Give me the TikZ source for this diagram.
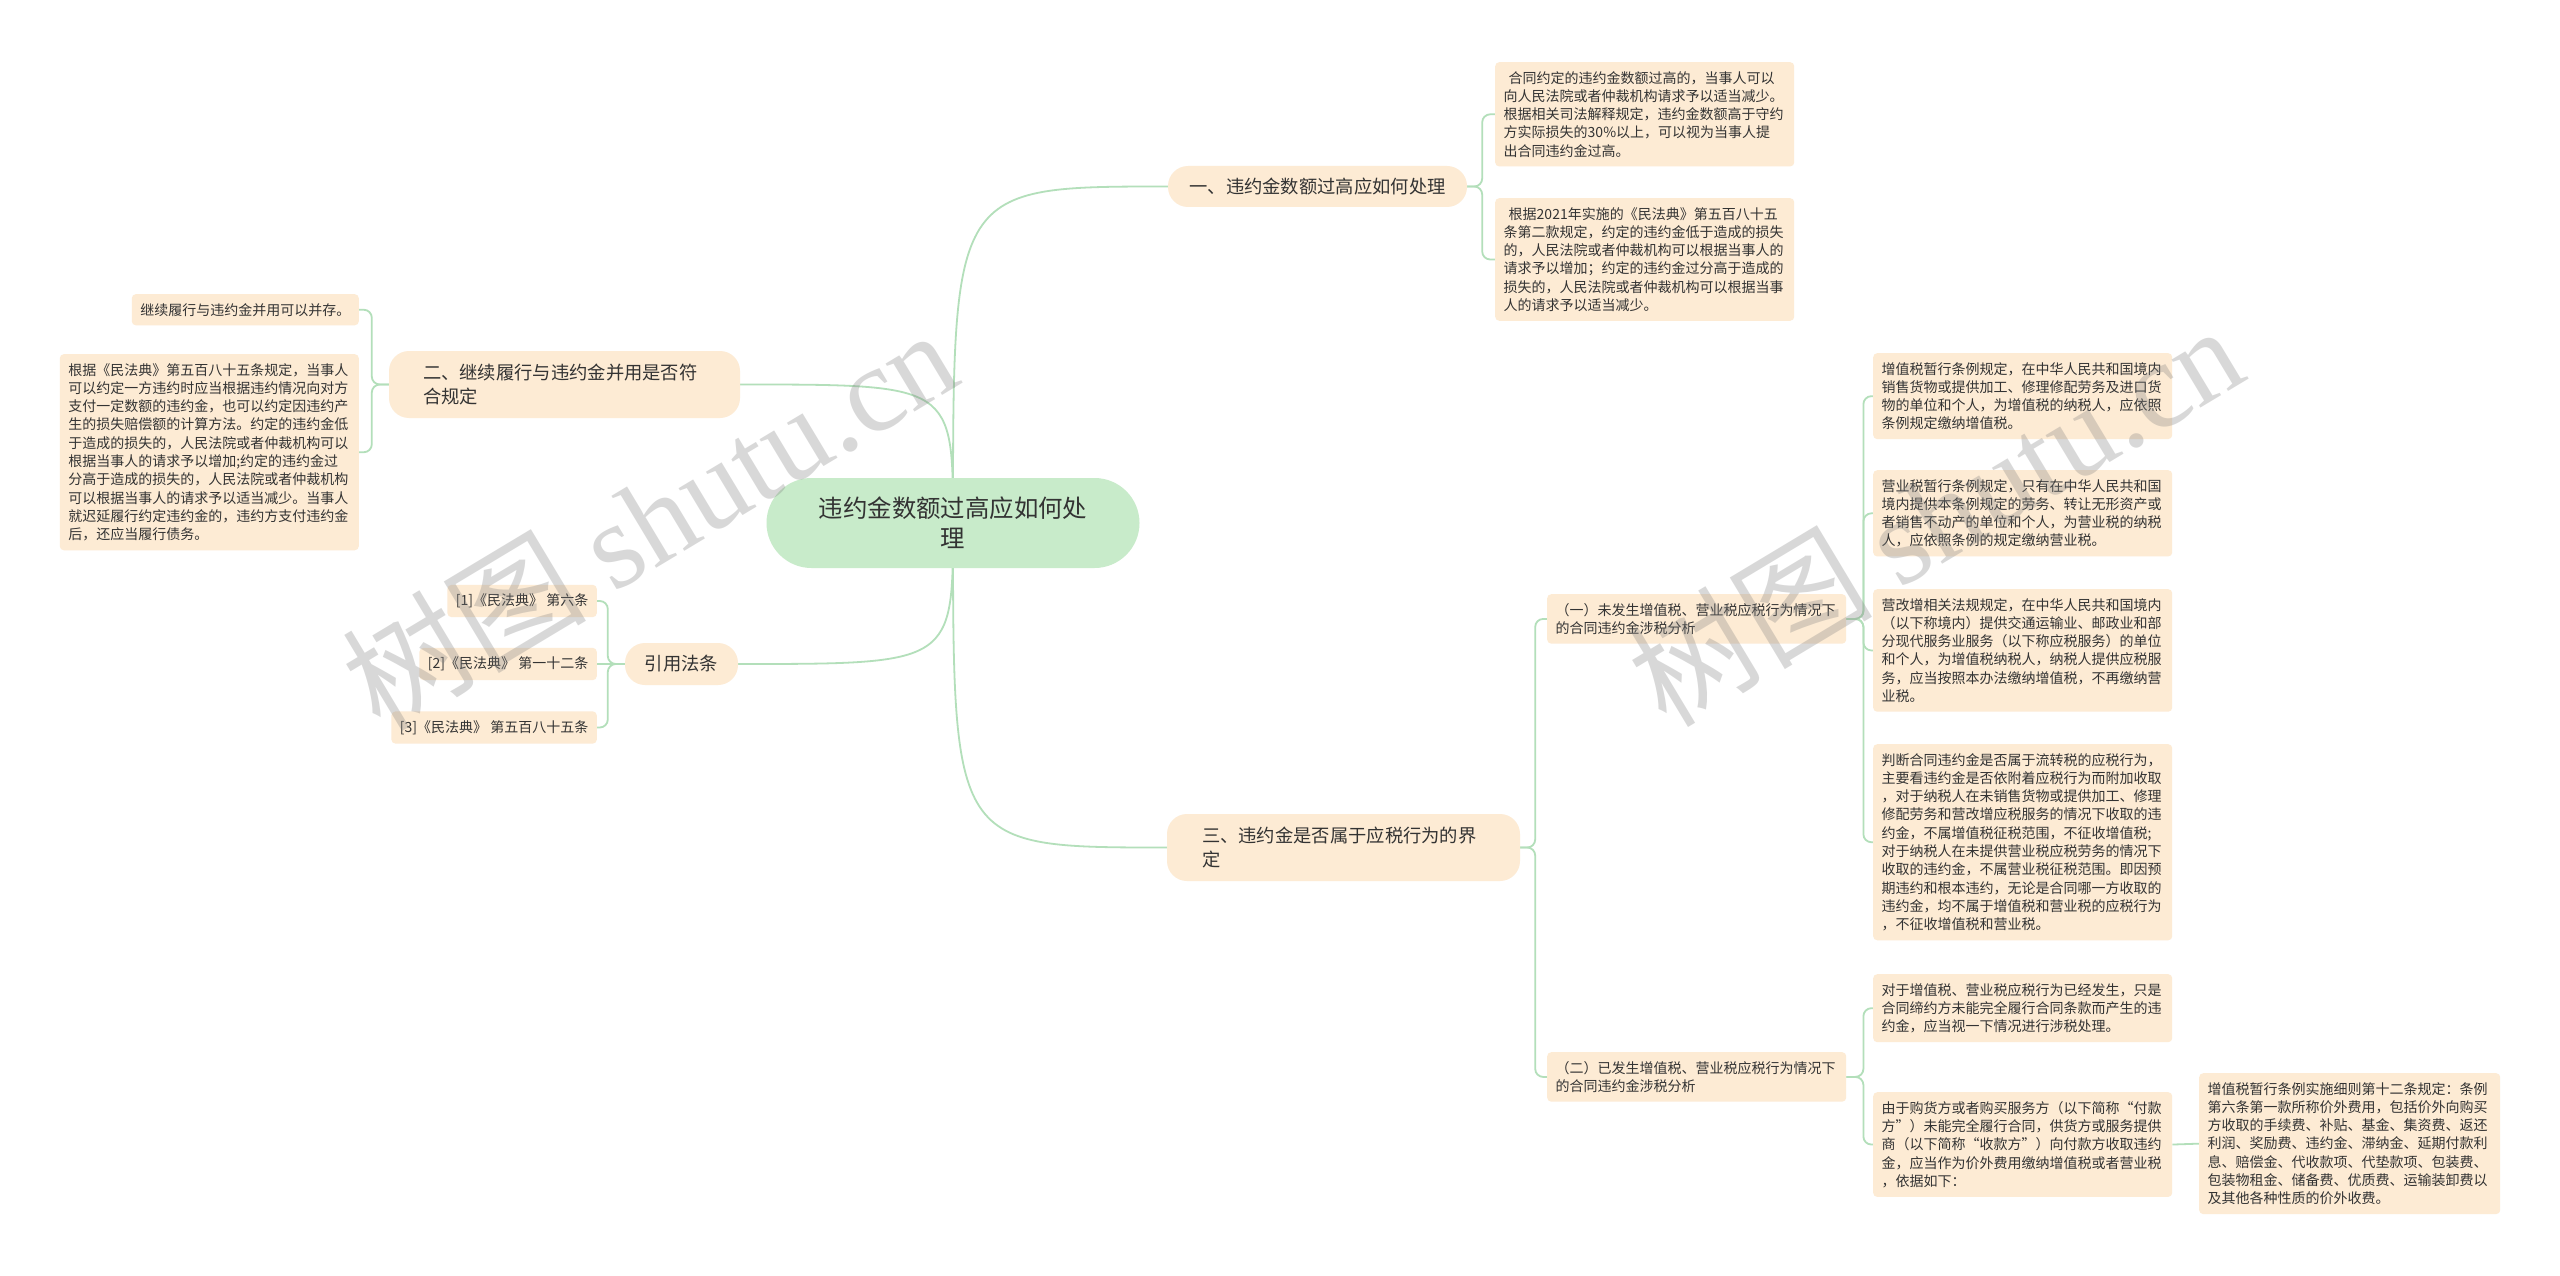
\documentclass[tikz,border=0pt]{standalone}
\usepackage{fontspec}
\setmainfont{Noto Sans CJK SC}
\newfontfamily\wmlatin{Liberation Serif}
\usetikzlibrary{calc}
\definecolor{boxfill}{HTML}{FDEBD4}
\definecolor{rootfill}{HTML}{C8EBCA}
\definecolor{linkc}{HTML}{B3DFBA}
\definecolor{txt}{HTML}{333333}
\pgfdeclarelayer{background}
\pgfsetlayers{background,main}
\begin{document}
\begin{tikzpicture}[x=1pt,y=-1pt,
  link/.style={draw=linkc, line width=1.8pt},
  bracket/.style={link, rounded corners=8pt},
  leaf/.style={fill=boxfill, rounded corners=4pt, text=txt, font=\fontsize{14}{18.3}\selectfont, align=left, inner xsep=8.5pt, inner ysep=9pt},
  leafw/.style={leaf, text width=282pt},
  branch/.style={fill=boxfill, rounded corners=20pt, text=txt, font=\fontsize{18.3}{24}\selectfont},
  root/.style={fill=rootfill, rounded corners=45pt, text=txt, font=\fontsize{24.4}{30}\selectfont, align=center, minimum width=373pt, minimum height=90pt},
  wm/.style={text=black!50, opacity=0.3, rotate=31, font=\fontsize{122}{122}\selectfont}
]
\useasboundingbox (0,0) rectangle (2560,1276);

% root
\node[root] (c) at (953,523) {违约金数额过高应如何处\\理};

% branch 1
\node[branch, minimum width=299pt, minimum height=41pt] (b1) at (1317.5,186.5) {一、违约金数额过高应如何处理};
\node[leafw, anchor=north west] (a1) at (1495,62) {\hspace*{5pt}合同约定的违约金数额过高的，当事人可以\\向人民法院或者仲裁机构请求予以适当减少。\\根据相关司法解释规定，违约金数额高于守约\\方实际损失的30\%以上，可以视为当事人提\\出合同违约金过高。};
\node[leafw, anchor=north west] (a2) at (1495,198) {\hspace*{5pt}根据2021年实施的《民法典》第五百八十五\\条第二款规定，约定的违约金低于造成的损失\\的，人民法院或者仲裁机构可以根据当事人的\\请求予以增加；约定的违约金过分高于造成的\\损失的，人民法院或者仲裁机构可以根据当事\\人的请求予以适当减少。};

% branch 2
\node[branch, text width=283pt, align=left, inner xsep=34pt, minimum height=67pt] (b2) at (564.5,384.5) {二、继续履行与违约金并用是否符\\合规定};
\node[leaf, anchor=north east] (l1) at (359,294) {继续履行与违约金并用可以并存。};
\node[leafw, anchor=north east] (l2) at (359,354) {根据《民法典》第五百八十五条规定，当事人\\可以约定一方违约时应当根据违约情况向对方\\支付一定数额的违约金，也可以约定因违约产\\生的损失赔偿额的计算方法。约定的违约金低\\于造成的损失的，人民法院或者仲裁机构可以\\根据当事人的请求予以增加;约定的违约金过\\分高于造成的损失的，人民法院或者仲裁机构\\可以根据当事人的请求予以适当减少。当事人\\就迟延履行约定违约金的，违约方支付违约金\\后，还应当履行债务。};

% references
\node[branch, minimum width=113pt, minimum height=42pt] (r) at (681.5,664) {引用法条};
\node[leaf, anchor=east] (r1) at (597,601) {[1]《民法典》 第六条};
\node[leaf, anchor=east] (r2) at (597,664) {[2]《民法典》 第一十二条};
\node[leaf, anchor=east] (r3) at (597,727.5) {[3]《民法典》 第五百八十五条};

% branch 3
\node[branch, text width=283pt, align=left, inner xsep=35pt, minimum height=67pt] (b3) at (1343.5,847.5) {三、违约金是否属于应税行为的界\\定};
\node[leafw, anchor=north west] (s1) at (1547,594) {（一）未发生增值税、营业税应税行为情况下\\的合同违约金涉税分析};
\node[leafw, anchor=north west] (s2) at (1547,1052) {（二）已发生增值税、营业税应税行为情况下\\的合同违约金涉税分析};

\node[leafw, anchor=north west] (d1) at (1873,353) {增值税暂行条例规定，在中华人民共和国境内\\销售货物或提供加工、修理修配劳务及进口货\\物的单位和个人，为增值税的纳税人，应依照\\条例规定缴纳增值税。};
\node[leafw, anchor=north west] (d2) at (1873,470) {营业税暂行条例规定，只有在中华人民共和国\\境内提供本条例规定的劳务、转让无形资产或\\者销售不动产的单位和个人，为营业税的纳税\\人，应依照条例的规定缴纳营业税。};
\node[leafw, anchor=north west] (d3) at (1873,589) {营改增相关法规规定，在中华人民共和国境内\\（以下称境内）提供交通运输业、邮政业和部\\分现代服务业服务（以下称应税服务）的单位\\和个人，为增值税纳税人，纳税人提供应税服\\务，应当按照本办法缴纳增值税，不再缴纳营\\业税。};
\node[leafw, anchor=north west] (d4) at (1873,744) {判断合同违约金是否属于流转税的应税行为，\\主要看违约金是否依附着应税行为而附加收取\\，对于纳税人在未销售货物或提供加工、修理\\修配劳务和营改增应税服务的情况下收取的违\\约金，不属增值税征税范围，不征收增值税;\\对于纳税人在未提供营业税应税劳务的情况下\\收取的违约金，不属营业税征税范围。即因预\\期违约和根本违约，无论是合同哪一方收取的\\违约金，均不属于增值税和营业税的应税行为\\，不征收增值税和营业税。};
\node[leafw, anchor=north west] (d5) at (1873,974) {对于增值税、营业税应税行为已经发生，只是\\合同缔约方未能完全履行合同条款而产生的违\\约金，应当视一下情况进行涉税处理。};
\node[leafw, anchor=north west] (d6) at (1873,1092) {由于购货方或者购买服务方（以下简称“付款\\方”）未能完全履行合同，供货方或服务提供\\商（以下简称“收款方”）向付款方收取违约\\金，应当作为价外费用缴纳增值税或者营业税\\，依据如下：};
\node[leaf, text width=284pt, anchor=north west] (d7) at (2199,1073) {增值税暂行条例实施细则第十二条规定：条例\\第六条第一款所称价外费用，包括价外向购买\\方收取的手续费、补贴、基金、集资费、返还\\利润、奖励费、违约金、滞纳金、延期付款利\\息、赔偿金、代收款项、代垫款项、包装费、\\包装物租金、储备费、优质费、运输装卸费以\\及其他各种性质的价外收费。};

\begin{pgfonlayer}{background}
\fill[white] (0,0) rectangle (2560,1276);
\draw[link] (c.center) .. controls (c.center |- b1.west) .. (b1.west);
\draw[link] (c.center) .. controls (c.center |- b2.east) .. (b2.east);
\draw[link] (c.center) .. controls (c.center |- r.east) .. (r.east);
\draw[link] (c.center) .. controls (c.center |- b3.west) .. (b3.west);
\draw[bracket] (b1.east) -- ++(15,0) |- (a1.west);
\draw[bracket] (b1.east) -- ++(15,0) |- (a2.west);
\draw[bracket] (b2.west) -- ++(-17,0) |- (l1.east);
\draw[bracket] (b2.west) -- ++(-17,0) |- (l2.east);
\draw[bracket] (r.west) -- ++(-17,0) |- (r1.east);
\draw[link] (r.west) -- (r2.east);
\draw[bracket] (r.west) -- ++(-17,0) |- (r3.east);
\draw[bracket] (b3.east) -- ++(15,0) |- (s1.west);
\draw[bracket] (b3.east) -- ++(15,0) |- (s2.west);
\draw[bracket] (s1.east) -- ++(17,0) |- (d1.west);
\draw[bracket] (s1.east) -- ++(17,0) |- (d2.west);
\draw[bracket] (s1.east) -- ++(17,0) |- (d3.west);
\draw[bracket] (s1.east) -- ++(17,0) |- (d4.west);
\draw[bracket] (s2.east) -- ++(17,0) |- (d5.west);
\draw[bracket] (s2.east) -- ++(17,0) |- (d6.west);
\draw[link] (d6.east) -- (d7.west);
\end{pgfonlayer}

% watermarks
\node[wm] (w1) at (649,518) {树图 {\wmlatin shutu.cn}};
\node[wm] (w2) at (1935,514) {树图 {\wmlatin shutu.cn}};
\end{tikzpicture}
\end{document}
